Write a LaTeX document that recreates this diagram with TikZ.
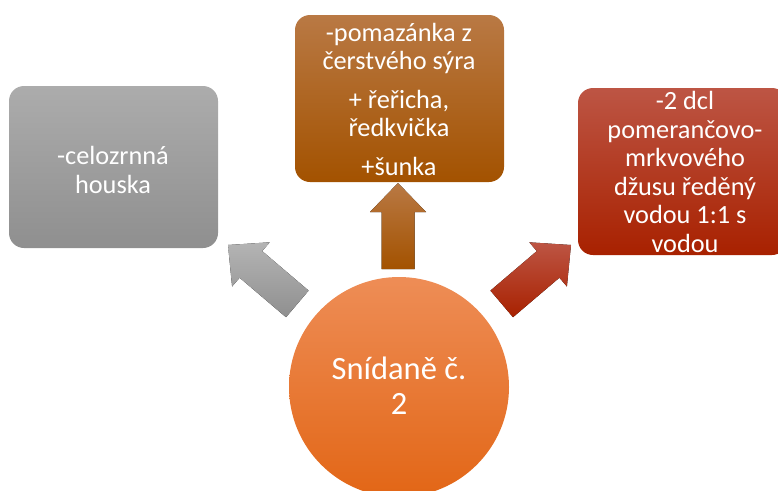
\documentclass[tikz,border=0pt]{standalone}
\usepackage{fontspec}
\setmainfont{Carlito}
\definecolor{grayT}{RGB}{172,172,172}
\definecolor{grayB}{RGB}{143,143,143}
\definecolor{brownT}{RGB}{185,121,68}
\definecolor{brownM}{RGB}{178,95,0}
\definecolor{brownB}{RGB}{163,82,0}
\definecolor{redT}{RGB}{189,85,68}
\definecolor{redM}{RGB}{182,45,0}
\definecolor{redB}{RGB}{168,33,0}
\definecolor{orT}{RGB}{238,141,86}
\definecolor{orM}{RGB}{240,122,42}
\definecolor{orB}{RGB}{226,102,22}
\begin{document}
\begin{tikzpicture}[x=1pt,y=-1pt,
  box/.style={rectangle, rounded corners=15pt, minimum width=209pt, inner sep=0pt},
  graybox/.style={box, top color=grayT, bottom color=grayB},
  brownbox/.style={box, top color=brownT, middle color=brownM, bottom color=brownB},
  redbox/.style={box, top color=redT, middle color=redM, bottom color=redB},
  boxtext/.style={text=white, align=center, inner sep=0pt, font=\fontsize{26.3}{28.5}\selectfont},
  hubtext/.style={text=white, align=center, inner sep=0pt, font=\fontsize{32.5}{35}\selectfont},
  grayarrow/.style={top color=grayT!90!white, bottom color=grayB},
  brownarrow/.style={top color=brownT, middle color=brownM, bottom color=brownB},
  redarrow/.style={top color=redT, middle color=redM, bottom color=redB}]
\useasboundingbox (0,0) rectangle (778,490);
\clip (0,0) rectangle (778,490);
% boxes
\node[graybox, minimum height=162pt] (gbox) at (113.5,167) {};
\node[brownbox, minimum height=167pt] (bbox) at (399.5,98.5) {};
\node[redbox, minimum height=167pt] (rbox) at (682.5,171.5) {};
\node[boxtext] (gtext) at (113,170) {-celozrnná\\houska};
\node[boxtext] (btext) at (399,99) {-pomazánka z\\čerstvého sýra\\[10pt]+ řeřicha,\\ředkvička\\[10pt]+šunka};
\node[boxtext] (rtext) at (685,172) {-2 dcl\\pomerančovo-\\mrkvového\\džusu ředěný\\vodou 1:1 s\\vodou};
% hub circle
\node[circle, minimum size=220pt, inner sep=0pt, top color=orT, middle color=orM, bottom color=orB] (hub) at (399,387) {};
\node[hubtext] (hubtext) at (399,386) {Snídaně č.\\2};
% block arrows
\fill[grayarrow] (228,245) -- (269.7,242.3) -- (262.2,251.1) -- (308.6,290.6) -- (286.0,317.2) -- (239.6,277.7) -- (232.1,286.5) -- cycle;
\fill[redarrow] (571,245) -- (529.3,242.3) -- (536.8,251.1) -- (490.4,290.6) -- (513.0,317.2) -- (559.4,277.7) -- (566.9,286.5) -- cycle;
\fill[brownarrow] (398,183) -- (426,212) -- (414.5,212) -- (414.5,269) -- (381.5,269) -- (381.5,212) -- (370,212) -- cycle;
\end{tikzpicture}
\end{document}
